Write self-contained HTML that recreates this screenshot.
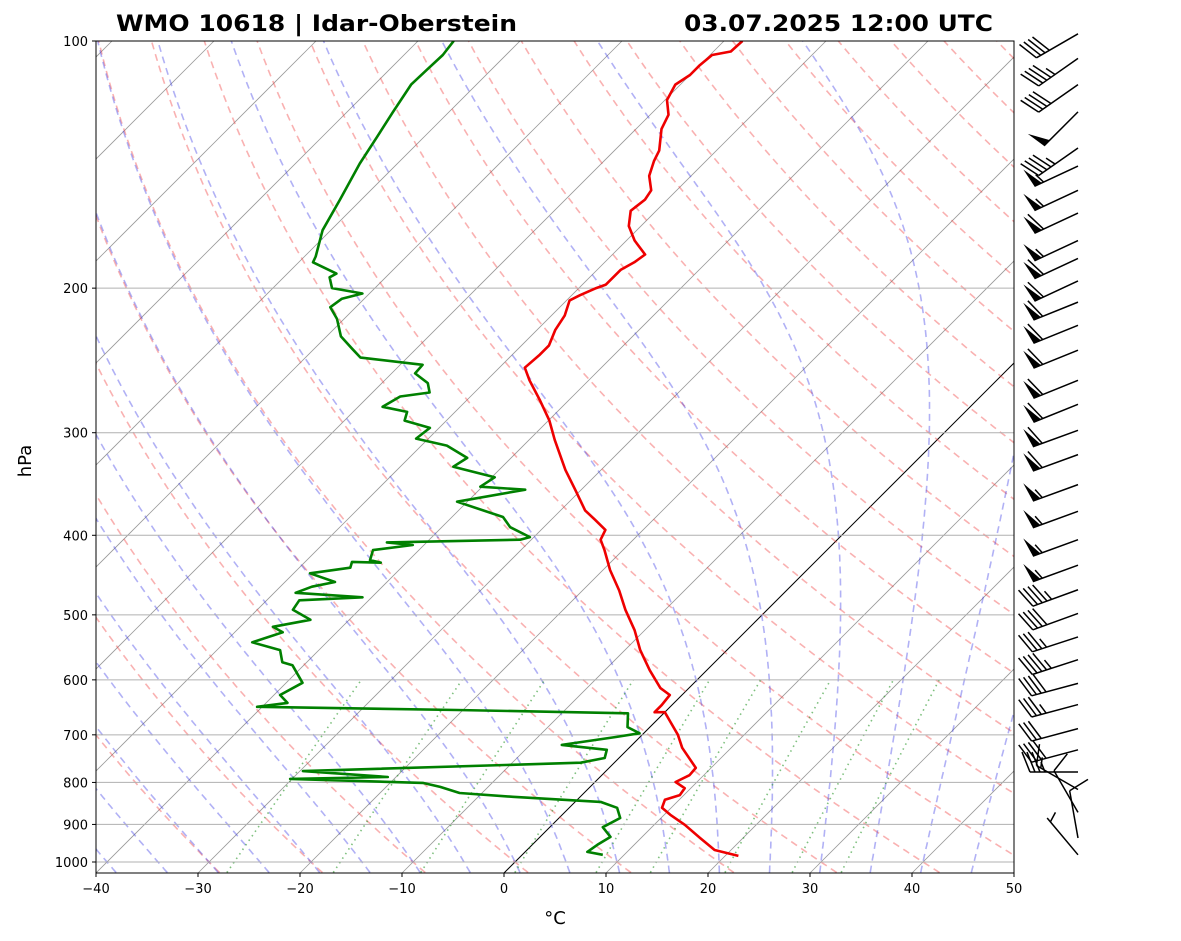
<!DOCTYPE html>
<html><head><meta charset="utf-8"><style>
html,body{margin:0;padding:0;background:#fff;}
svg{display:block;font-family:"DejaVu Sans","Liberation Sans",sans-serif;}
</style></head><body>
<svg id="chart" width="1181" height="941" viewBox="0 0 1181 941" xmlns="http://www.w3.org/2000/svg">
<defs><clipPath id="plotclip"><rect x="96" y="41" width="918" height="832"/></clipPath></defs>
<rect x="0" y="0" width="1181" height="941" fill="#fff"/>
<g id="bg" clip-path="url(#plotclip)"></g>
<g id="grid"></g>
<g id="series" clip-path="url(#plotclip)"></g>
<rect x="96" y="41" width="918" height="832" fill="none" stroke="#000" stroke-width="1"/>
<g id="axes"></g>
<g id="barbs"></g>
<text x="116" y="31" font-size="22" font-weight="bold" textLength="401" lengthAdjust="spacingAndGlyphs">WMO 10618 | Idar-Oberstein</text>
<text x="684" y="31" font-size="22" font-weight="bold" textLength="309" lengthAdjust="spacingAndGlyphs">03.07.2025 12:00 UTC</text>
<text x="31" y="461" font-size="18" text-anchor="middle" transform="rotate(-90 31 461)">hPa</text>
<text x="555" y="924" font-size="18" text-anchor="middle">°C</text>
</svg>
<script>
// ---- data ----
const tempP = [983,967,935,901,876,859,840,829,813,799,784,768,726,700,675,657,657,644,626,614,584,552,522,493,467,441,417,405,394,383,373,352,333,306,290,274,259,250,241,235,225,216,207,204,200,198,190,186,182,175,168,161,156,152,146,140,136,128,123,118,113,110,107,104,103,100];
const tempT = [21.3,18.4,15.8,13.0,10.6,9.1,8.6,9.6,9.4,7.9,8.6,8.5,5.2,3.5,1.5,0.0,-1.0,-1.0,-1.2,-2.8,-5.6,-8.5,-11.0,-13.9,-16.4,-19.3,-21.8,-23.2,-23.7,-25.7,-27.6,-30.6,-33.5,-37.5,-39.9,-42.8,-45.8,-47.5,-47.3,-47.3,-48.2,-48.7,-49.7,-49.2,-48.3,-47.7,-47.7,-47.1,-46.8,-49.2,-51.2,-52.5,-52.2,-52.5,-54.1,-55.1,-55.6,-57.5,-58.2,-59.8,-60.5,-60.0,-60.0,-59.8,-58.3,-58.2];
const dewP = [980,972,953,932,907,884,859,845,833,824,810,801,792,788,775,757,747,730,720,704,697,685,659,653,647,640,626,605,576,571,552,540,525,517,507,493,480,476,470,462,456,445,438,431,432,429,417,411,408,405,402,391,380,364,352,349,340,330,322,311,305,296,290,283,279,271,268,261,254,248,243,237,229,218,211,206,203,200,194,192,186,183,170,156,141,131,122,113,108,104,100];
const dewT = [7.9,6.1,6.4,6.9,5.2,6.0,4.7,2.5,-6.6,-12.2,-14.7,-16.8,-30.2,-20.8,-29.7,-3.3,-1.4,-2.0,-6.9,-2.3,-0.4,-2.2,-3.5,-20.6,-40.5,-37.9,-39.4,-38.4,-41.1,-42.4,-43.8,-47.3,-45.3,-46.8,-43.8,-46.5,-46.8,-40.9,-47.9,-46.9,-45.1,-48.4,-45.0,-45.4,-42.5,-43.8,-44.5,-41.1,-43.9,-31.1,-30.4,-33.3,-35.0,-41.0,-35.5,-40.2,-39.7,-44.8,-44.3,-47.5,-51.2,-50.9,-54.1,-54.7,-57.6,-56.9,-54.4,-55.5,-57.7,-57.8,-64.6,-66.3,-68.6,-70.7,-72.5,-72.2,-70.7,-74.2,-75.5,-75.2,-78.6,-78.9,-80.8,-82.1,-83.7,-84.6,-85.5,-86.4,-86.3,-86.2,-86.5];
const barbP = [98,105,113,122,135,142,152,162,175,184,196,208,222,238,259,277,298,319,347,374,405,435,466,498,532,567,606,643,688,730,777,816,870,935,980];
const barbDir = [240,235,235,225,235,245,245,245,245,245,245,248,248,248,248,248,250,250,250,250,250,250,250,250,252,252,255,255,255,255,270,300,330,350,320];
const barbSpd = [40,45,40,50,45,55,55,60,55,60,60,60,60,60,60,60,60,60,55,55,55,55,45,40,35,45,40,35,30,40,35,15,10,10,5];
const pTicks = [100,200,300,400,500,600,700,800,900,1000];
const tTicks = [-40,-30,-20,-10,0,10,20,30,40,50];
const dryTheta = [-30,-20,-10,0,10,20,30,40,50,60,70,80,90,100,110,120,130,140,150,160,170,180,190];
const moistT0 = [-45,-40,-35,-30,-25,-20,-15,-10,-5,0,5,10,15,20,25,30,35,40,45];
const mixW = [0.0004,0.001,0.002,0.004,0.007,0.01,0.016,0.024,0.032];

// ---- axes ----
const NS='http://www.w3.org/2000/svg';
const X0=96,YB=873,PX=10.2;
function yP(p){return 41+821*Math.log10(p/100);}
function xT(t,p){return X0+(t+40)*PX+(YB-yP(p));}
function mk(tag,attrs,parent){const e=document.createElementNS(NS,tag);for(const k in attrs)e.setAttribute(k,attrs[k]);parent.appendChild(e);return e;}
function pathOf(pts){return pts.map((q,i)=>(i?'L':'M')+q[0].toFixed(1)+' '+q[1].toFixed(1)).join(' ');}
const bg=document.getElementById('bg'),grid=document.getElementById('grid'),series=document.getElementById('series'),axes=document.getElementById('axes'),barbs=document.getElementById('barbs');

// isotherms
for(let t=-130;t<=50;t+=10){
  const l=mk('line',{x1:X0+(t+40)*PX,y1:YB,x2:X0+(t+40)*PX+832,y2:41,stroke:t===0?'#000':'#999','stroke-width':t===0?1:0.8},bg);
  
  
}
// dry adiabats
const pLev=[];for(let p=1030;p>=100;p-=5)pLev.push(p);
dryTheta.forEach(th=>{
  const pts=pLev.map(p=>[xT((th+273.15)*Math.pow(p/1000,0.2857)-273.15,p),yP(p)]);
  const e=mk('path',{d:pathOf(pts),fill:'none',stroke:'rgba(240,60,60,0.4)','stroke-width':1.6,'stroke-dasharray':'7 5'},bg);
  
  
});
// moist adiabats
function es(tc){return 6.112*Math.exp(17.67*tc/(tc+243.5));}
function dTdp(T,p){const tc=T-273.15;const e=es(tc);const rs=0.622*e/(p-e);
  return (287.04*T+2.501e6*rs)/(p*(1005.7+2.501e6*2.501e6*rs*0.622/(287.04*T*T)));}
moistT0.forEach(t0=>{
  const up=[],dn=[];let T=t0+273.15;
  for(let p=1000;p>=100;p-=5){up.push([xT(T-273.15,p),yP(p)]);
    const h=-5;const k1=dTdp(T,p),k2=dTdp(T+h*k1/2,p+h/2),k3=dTdp(T+h*k2/2,p+h/2),k4=dTdp(T+h*k3,p+h);T+=h*(k1+2*k2+2*k3+k4)/6;}
  T=t0+273.15;
  for(let p=1000;p<=1030;p+=5){dn.push([xT(T-273.15,p),yP(p)]);T+=5*dTdp(T,p);}
  const pts=dn.reverse().concat(up.slice(1));
  const e=mk('path',{d:pathOf(pts),fill:'none',stroke:'rgba(50,50,230,0.38)','stroke-width':1.6,'stroke-dasharray':'7 5'},bg);
  
  
});
// mixing ratio lines
mixW.forEach(w=>{
  const pts=[];for(let p=1030;p>=600;p-=10){const e=w*p/(0.622+w);const L=Math.log(e/6.112);pts.push([xT(243.5*L/(17.67-L),p),yP(p)]);}
  const e=mk('path',{d:pathOf(pts),fill:'none',stroke:'rgba(40,150,40,0.6)','stroke-width':1.6,'stroke-dasharray':'1.5 4'},bg);
  
  
});
// grid + y ticks
pTicks.forEach(p=>{
  const y=yP(p);
  const g=mk('line',{x1:96,y1:y,x2:1014,y2:y,stroke:'#b0b0b0','stroke-width':1},grid);
  
  
  mk('line',{x1:92,y1:y,x2:96,y2:y,stroke:'#000'},axes);
  const t=mk('text',{x:88,y:y+5,'font-size':13,'text-anchor':'end'},axes);t.textContent=p;
  
  
});
tTicks.forEach(v=>{
  const x=X0+(v+40)*PX;
  mk('line',{x1:x,y1:873,x2:x,y2:877,stroke:'#000'},axes);
  const t=mk('text',{x:x,y:893,'font-size':13,'text-anchor':'middle'},axes);t.textContent=(v<0?'\u2212'+(-v):v);
  
  
});
// profiles
const tl=mk('path',{d:pathOf(tempP.map((p,i)=>[xT(tempT[i],p),yP(p)])),fill:'none',stroke:'#e00','stroke-width':2.6,'stroke-linejoin':'round'},series);


const dl=mk('path',{d:pathOf(dewP.map((p,i)=>[xT(dewT[i],p),yP(p)])),fill:'none',stroke:'#008000','stroke-width':2.6,'stroke-linejoin':'round'},series);


// barbs
barbP.forEach((p,i)=>{
  const d=barbDir[i]*Math.PI/180,s=[Math.sin(d),-Math.cos(d)],n=[-s[1],s[0]];
  const bx=1078,by=yP(p),L=48,f=20,w=8,sp=5;
  const g=mk('g',{},barbs);
  
  
  const tip=[bx+L*s[0],by+L*s[1]];
  mk('line',{x1:bx,y1:by,x2:tip[0],y2:tip[1],stroke:'#000','stroke-width':1.5},g);
  let spd=Math.round(barbSpd[i]/5)*5;const flags=Math.floor(spd/50);spd-=flags*50;const full=Math.floor(spd/10);const half=(spd%10)>=5;
  let pos=0;
  const at=o=>[tip[0]-o*s[0],tip[1]-o*s[1]];
  for(let k=0;k<flags;k++){const A=at(pos),B=at(pos+w);const C=[A[0]+f*n[0]+0.15*f*s[0],A[1]+f*n[1]+0.15*f*s[1]];
    mk('polygon',{points:[A,C,B].map(q=>q.join(',')).join(' '),fill:'#000'},g);pos+=w+2;}
  for(let k=0;k<full;k++){const A=at(pos);mk('line',{x1:A[0],y1:A[1],x2:A[0]+f*n[0]+0.4*f*s[0],y2:A[1]+f*n[1]+0.4*f*s[1],stroke:'#000','stroke-width':1.5},g);pos+=sp;}
  if(half){if(flags===0&&full===0)pos+=sp;const A=at(pos);mk('line',{x1:A[0],y1:A[1],x2:A[0]+0.5*f*n[0]+0.2*f*s[0],y2:A[1]+0.5*f*n[1]+0.2*f*s[1],stroke:'#000','stroke-width':1.5},g);}
});
</script>
</body></html>
